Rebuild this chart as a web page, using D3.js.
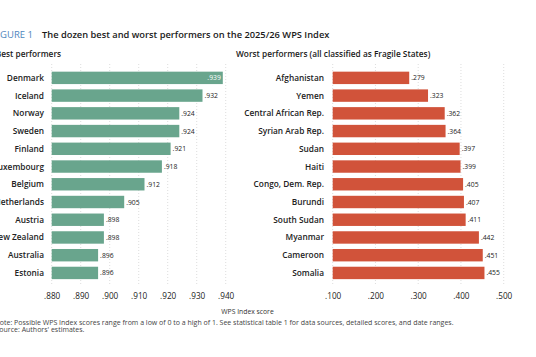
<!DOCTYPE html>
<html><head><meta charset="utf-8">
<script src="https://cdn.jsdelivr.net/npm/d3@7"></script>
<style>
html,body{margin:0;padding:0;background:#fff;}
svg{display:block;font-family:"Open Sans",Lato,sans-serif;}
</style></head>
<body>
<svg id="c" width="536" height="357"></svg>
<script>
const bestCountries = ["Denmark","Iceland","Norway","Sweden","Finland","Luxembourg","Belgium","Netherlands","Austria","New Zealand","Australia","Estonia"];
const bestScores = [0.939,0.932,0.924,0.924,0.921,0.918,0.912,0.905,0.898,0.898,0.896,0.896];
const worstCountries = ["Afghanistan","Yemen","Central African Rep.","Syrian Arab Rep.","Sudan","Haiti","Congo, Dem. Rep.","Burundi","South Sudan","Myanmar","Cameroon","Somalia"];
const worstScores = [0.279,0.323,0.362,0.364,0.397,0.399,0.405,0.407,0.411,0.442,0.451,0.455];
const bestTicks = [0.88,0.89,0.90,0.91,0.92,0.93,0.94];
const worstTicks = [0.1,0.2,0.3,0.4,0.5];

const svg = d3.select("#c");
const fmt = v => d3.format(".3f")(v).replace(/^0/, "");

svg.append("text").attr("x",33).attr("y",38).attr("text-anchor","end")
  .attr("font-size",9.5).attr("font-weight",500).attr("fill","#4f86bd").text("FIGURE 1");
svg.append("text").attr("x",42).attr("y",38)
  .attr("font-size",9.3).attr("font-weight",600).attr("fill","#1a1a1a")
  .text("The dozen best and worst performers on the 2025/26 WPS Index");
svg.append("text").attr("x",61).attr("y",57).attr("text-anchor","end")
  .attr("font-size",8.3).attr("font-weight",600).attr("fill","#1a1a1a").text("Best performers");
svg.append("text").attr("x",236).attr("y",57)
  .attr("font-size",8.3).attr("font-weight",600).attr("fill","#1a1a1a")
  .text("Worst performers (all classified as Fragile States)");

function panel(cats, vals, ticks, domain, range, color, labelX) {
  const x = d3.scaleLinear().domain(domain).range(range);
  const y = d3.scaleBand().domain(cats).range([69, 281.8]).paddingInner(0.3).paddingOuter(0.15);
  const g = svg.append("g");
  g.selectAll("line.grid").data(ticks).join("line")
    .attr("x1", d => x(d)).attr("x2", d => x(d))
    .attr("y1", 64).attr("y2", 285)
    .attr("stroke", "#cfcfcf").attr("stroke-width", 0.7).attr("stroke-dasharray", "1,2");
  g.selectAll("rect").data(cats).join("rect")
    .attr("x", range[0]).attr("y", d => y(d))
    .attr("width", (d,i) => x(vals[i]) - range[0])
    .attr("height", y.bandwidth())
    .attr("fill", color);
  g.selectAll("text.cat").data(cats).join("text")
    .attr("x", labelX).attr("y", d => y(d) + y.bandwidth()/2 + 3)
    .attr("text-anchor","end").attr("font-size",8.3).attr("font-weight",600).attr("fill","#222")
    .text(d => d);
  g.selectAll("text.val").data(cats).join("text")
    .each(function(d,i){
      const xv = x(vals[i]);
      const inside = xv + 18 > range[1];
      d3.select(this)
        .attr("x", inside ? xv - 2 : xv + 2)
        .attr("y", y(d) + y.bandwidth()/2 + 2.5)
        .attr("text-anchor", inside ? "end" : "start")
        .attr("fill", inside ? "#fff" : "#222");
    })
    .attr("font-size",6.8).attr("font-weight",500)
    .text((d,i) => fmt(vals[i]));
  const ax = d3.axisBottom(x).tickValues(ticks).tickFormat(fmt).tickSize(0).tickPadding(0);
  const axg = svg.append("g").attr("transform","translate(0,293)").call(ax);
  axg.select(".domain").remove();
  axg.selectAll("text").attr("font-size",8.2).attr("font-weight",500).attr("fill","#222")
    .attr("font-family","'Open Sans',Lato,sans-serif");
}

panel(bestCountries, bestScores, bestTicks, [0.88,0.94], [51.7,225.7], "#69a58d", 44);
panel(worstCountries, worstScores, worstTicks, [0.1,0.5], [332.7,503.7], "#d1533a", 324);

svg.append("text").attr("x",247.5).attr("y",314).attr("text-anchor","middle")
  .attr("font-size",6.8).attr("fill","#333").text("WPS Index score");
svg.append("text").attr("x",-5.5).attr("y",325)
  .attr("font-size",7).attr("fill","#444")
  .text("Note: Possible WPS Index scores range from a low of 0 to a high of 1. See statistical table 1 for data sources, detailed scores, and date ranges.");
svg.append("text").attr("x",-4.5).attr("y",332)
  .attr("font-size",7).attr("fill","#444").text("Source: Authors' estimates.");
</script>
</body></html>
